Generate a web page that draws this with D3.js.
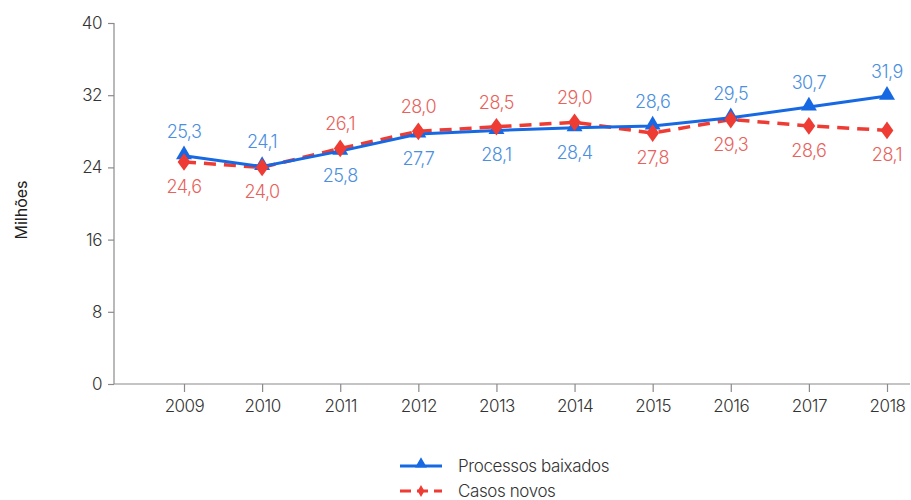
<!DOCTYPE html>
<html><head><meta charset="utf-8">
<script src="https://cdn.jsdelivr.net/npm/d3@7/dist/d3.min.js"></script>
<style>body{margin:0;background:#fff;} text{font-family:Inter, "Open Sans", sans-serif;font-weight:300;}</style>
</head><body><svg id="c" width="911" height="500"></svg>
<script>
const years = ["2009","2010","2011","2012","2013","2014","2015","2016","2017","2018"];
const baixados = [25.3,24.1,25.8,27.7,28.1,28.4,28.6,29.5,30.7,31.9];
const novos = [24.6,24.0,26.1,28.0,28.5,29.0,27.8,29.3,28.6,28.1];
// label placement: 1 = above, -1 = below
const baixadosPos = [1,1,-1,-1,-1,-1,1,1,1,1];
const novosPos = [-1,-1,1,1,1,1,-1,-1,-1,-1];
const yTicks = [0,8,16,24,32,40];

const svg = d3.select("#c");
const x = d3.scalePoint().domain(years).range([184, 887]);
const y = d3.scaleLinear().domain([0,40]).range([384, 23]);
const axisColor = "#8a8a8a";

const gx = svg.append("g").attr("transform","translate(0,384)");
gx.append("line").attr("x1",114).attr("x2",910).attr("stroke",axisColor).attr("stroke-width",1.2);
gx.call(g=>{
  const ax = d3.axisBottom(x).tickSize(8).tickPadding(8);
  const a = g.append("g").call(ax);
  a.select(".domain").remove();
  a.selectAll(".tick line").attr("stroke",axisColor).attr("stroke-width",1.2);
  a.selectAll(".tick text").attr("fill","#333").attr("font-size",17).style("font-family","Inter, sans-serif").style("font-weight",300).attr("letter-spacing",-0.5);
});
const gy = svg.append("g").attr("transform","translate(114,0)").call(d3.axisLeft(y).tickValues(yTicks).tickSize(6).tickPadding(6));
gy.select(".domain").attr("stroke",axisColor).attr("stroke-width",1.2).attr("d","M0,23V384");
gy.selectAll(".tick line").attr("stroke",axisColor).attr("stroke-width",1.2);
gy.selectAll(".tick text").attr("fill","#333").attr("font-size",17).style("font-family","Inter, sans-serif").style("font-weight",300).attr("letter-spacing",-0.5);

svg.append("text").attr("transform","translate(27,210) rotate(-90)").attr("text-anchor","middle")
  .attr("font-size",16).style("font-weight",400).attr("fill","#222").text("Milhões");

const blue = "#1668e3", red = "#ee3b33";
const blueLbl = "#4a8fe0", redLbl = "#e8625c";
const line = d3.line().x((d,i)=>x(years[i])).y(d=>y(d));

svg.append("path").datum(novos).attr("d",line).attr("fill","none").attr("stroke",red).attr("stroke-width",3.5).attr("stroke-dasharray","12,8");
svg.append("path").datum(baixados).attr("d",line).attr("fill","none").attr("stroke",blue).attr("stroke-width",3);

const tri = d3.symbol().type(d3.symbolTriangle).size(110);
const dia = d3.symbol().type(d3.symbolDiamond).size(90);
svg.selectAll(".tb").data(baixados).join("path").attr("d",tri)
  .attr("transform",(d,i)=>`translate(${x(years[i])},${y(d)-1})`).attr("fill",blue);
svg.selectAll(".dn").data(novos).join("path").attr("d",dia)
  .attr("transform",(d,i)=>`translate(${x(years[i])},${y(d)}) scale(1.25,1)`).attr("fill",red);

const fmt = v => v.toFixed(1).replace(".", ",");
svg.selectAll(".lb").data(baixados).join("text").attr("text-anchor","middle").attr("font-size",18)
  .attr("fill",blueLbl).attr("letter-spacing",-0.5).attr("x",(d,i)=>x(years[i]))
  .attr("y",(d,i)=>y(d) + (baixadosPos[i]>0 ? -18 : 31)).text(fmt);
svg.selectAll(".ln").data(novos).join("text").attr("text-anchor","middle").attr("font-size",18)
  .attr("fill",redLbl).attr("letter-spacing",-0.5).attr("x",(d,i)=>x(years[i]))
  .attr("y",(d,i)=>y(d) + (novosPos[i]>0 ? -18 : 31)).text(fmt);

// legend
const lg = svg.append("g");
lg.append("line").attr("x1",400).attr("x2",442).attr("y1",466).attr("y2",466).attr("stroke",blue).attr("stroke-width",3);
lg.append("path").attr("d",d3.symbol().type(d3.symbolTriangle).size(60)).attr("transform","translate(421,464)").attr("fill",blue);
lg.append("text").attr("x",458).attr("y",472).attr("font-size",17).attr("letter-spacing",-0.4).attr("fill","#333").text("Processos baixados");
lg.append("line").attr("x1",400).attr("x2",442).attr("y1",491).attr("y2",491).attr("stroke",red).attr("stroke-width",3).attr("stroke-dasharray","11,6");
lg.append("path").attr("d",d3.symbol().type(d3.symbolDiamond).size(40)).attr("transform","translate(421,491)").attr("fill",red);
lg.append("text").attr("x",458).attr("y",497).attr("font-size",17).attr("letter-spacing",-0.4).attr("fill","#333").text("Casos novos");
</script></body></html>
